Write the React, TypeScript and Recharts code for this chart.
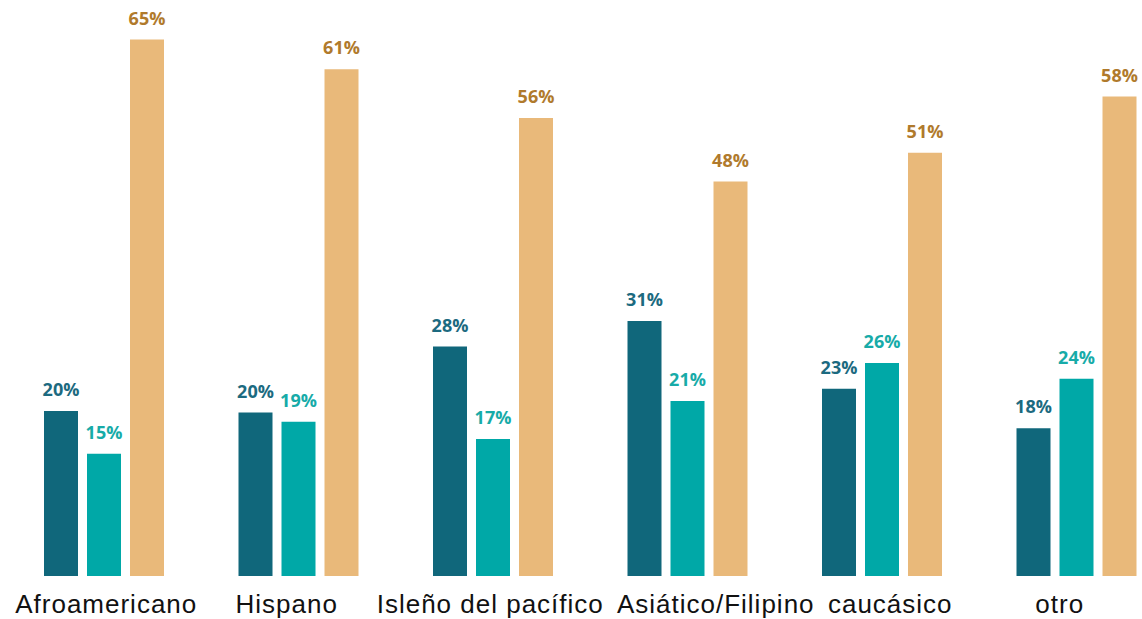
import { BarChart, Bar, XAxis, YAxis, LabelList } from "recharts";

const categories = [
  "Afroamericano",
  "Hispano",
  "Isleño del pacífico",
  "Asiático/Filipino",
  "caucásico",
  "otro",
];
const darkValues = [20.0, 19.8, 27.8, 30.9, 22.7, 17.9];
const tealValues = [14.8, 18.7, 16.6, 21.2, 25.8, 23.9];
const tanValues = [65.0, 61.4, 55.5, 47.8, 51.3, 58.1];

const data = categories.map((name, i) => ({
  name,
  dark: darkValues[i],
  teal: tealValues[i],
  tan: tanValues[i],
}));

// the source nudges a few labels sideways so they don't collide
const tickNudge: Record<string, number> = {
  Afroamericano: 2,
  Hispano: -12,
  "Isleño del pacífico": -3,
  "Asiático/Filipino": 28,
  caucásico: 8,
  otro: -17,
};

function CategoryTick(props: any) {
  const { x, y, payload } = props;
  return (
    <text
      x={x + (tickNudge[payload.value] ?? 0)}
      y={y}
      dy={29}
      textAnchor="middle"
      fill="#111"
      fontSize={26}
      letterSpacing={1}
      fontFamily="'Liberation Sans', Arial, sans-serif"
    >
      {payload.value}
    </text>
  );
}

const labelStyle = {
  fontFamily: "'Open Sans', sans-serif",
  fontWeight: 700,
  fontSize: 18,
};

const pct = (v: any) => `${Math.round(Number(v))}%`;

export default function App() {
  return (
    <div
      style={{
        position: "absolute",
        left: 0,
        top: 0,
        width: 1142,
        height: 619,
        overflow: "hidden",
        background: "#fff",
      }}
    >
      <BarChart
        width={1175}
        height={619}
        data={data}
        margin={{ top: 0, right: 1, bottom: 0, left: 7 }}
        barSize={34}
        barGap={9}
      >
        <XAxis
          dataKey="name"
          height={43}
          axisLine={false}
          tickLine={false}
          interval={0}
          tick={<CategoryTick />}
        />
        <YAxis hide domain={[0, 69.8]} />
        <Bar dataKey="dark" fill="#10677B" isAnimationActive={false}>
          <LabelList dataKey="dark" position="top" offset={15} formatter={pct} fill="#1C6A80" style={labelStyle} />
        </Bar>
        <Bar dataKey="teal" fill="#00A8A7" isAnimationActive={false}>
          <LabelList dataKey="teal" position="top" offset={15} formatter={pct} fill="#17ABA8" style={labelStyle} />
        </Bar>
        <Bar dataKey="tan" fill="#E9B97A" isAnimationActive={false}>
          <LabelList dataKey="tan" position="top" offset={15} formatter={pct} fill="#B07A2C" style={labelStyle} />
        </Bar>
      </BarChart>
    </div>
  );
}
